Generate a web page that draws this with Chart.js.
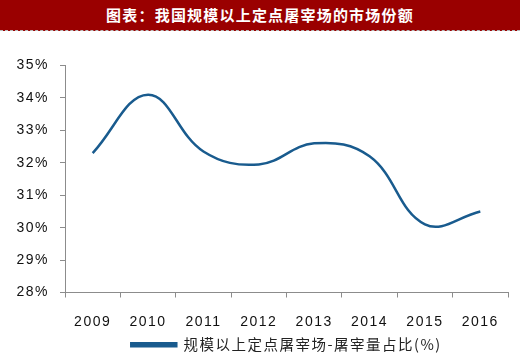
<!DOCTYPE html>
<html>
<head>
<meta charset="utf-8">
<script src="https://cdn.jsdelivr.net/npm/chart.js@4"></script>
<style>
  html, body { margin: 0; padding: 0; background: #fff; }
  #wrap { width: 520px; height: 362px; position: relative; overflow: hidden; }
  #title {
    height: 30px; background: #9a0000; color: #fff;
    font-family: "Noto Sans CJK SC", sans-serif; font-weight: bold; font-size: 15px;
    line-height: 30px; text-align: center; letter-spacing: 1.2px;
    border-bottom: 1px dashed #bbb;
  }
  #box { width: 520px; height: 331px; }
</style>
</head>
<body>
<div id="wrap">
  <div id="title">图表：我国规模以上定点屠宰场的市场份额</div>
  <div id="box"><canvas id="c"></canvas></div>
</div>
<script>
// data
const years = ["2009", "2010", "2011", "2012", "2013", "2014", "2015", "2016"];
const share = [32.3, 34.1, 32.35, 31.95, 32.6, 32.2, 30.1, 30.5];
const seriesName = "规模以上定点屠宰场-屠宰量占比(%)";

const lineColor = "#195b8e";
const axisColor = "#8c8c8c";

// the source text is a bit spread out, so widen letter spacing on the canvas
const spacing = {
  id: "spacing",
  beforeUpdate: (chart) => { chart.ctx.letterSpacing = "1.5px"; },
  beforeLayout: (chart) => { chart.ctx.letterSpacing = "1.5px"; },
  beforeDraw: (chart) => { chart.ctx.letterSpacing = "1.5px"; },
};

new Chart(document.getElementById("c"), {
  type: "line",
  data: {
    labels: years,
    datasets: [{
      label: seriesName,
      data: share,
      borderColor: lineColor,
      backgroundColor: lineColor,
      borderWidth: 2.5,
      pointRadius: 0,
      tension: 0.4,
      fill: false,
    }],
  },
  plugins: [spacing],
  options: {
    responsive: true,
    maintainAspectRatio: false,
    animation: false,
    layout: { padding: { top: 34.5, right: 12, left: 0, bottom: 0 } },
    plugins: {
      tooltip: { enabled: false },
      legend: {
        position: "bottom",
        fullSize: false,
        labels: {
          boxWidth: 45,
          boxHeight: 3,
          padding: 2,
          color: "#222",
          font: { family: "Noto Sans CJK SC, sans-serif", size: 14.5 },
        },
      },
    },
    scales: {
      x: {
        offset: true,
        grid: { display: true, offset: true, drawOnChartArea: false, drawTicks: true, tickLength: 5, color: axisColor },
        border: { display: true, color: axisColor, width: 1 },
        ticks: { color: "#111", padding: 16, font: { family: "Liberation Sans, Arial, sans-serif", size: 14 } },
        afterFit: (s) => { s.height = 43; },
      },
      y: {
        min: 28,
        max: 35,
        grid: { display: true, drawOnChartArea: false, drawTicks: true, tickLength: 5, color: axisColor },
        border: { display: true, color: axisColor, width: 1 },
        ticks: {
          stepSize: 1,
          color: "#111",
          padding: 11,
          font: { family: "Liberation Sans, Arial, sans-serif", size: 14 },
          callback: (v) => v + "%",
        },
        afterFit: (s) => { s.width = 65; },
      },
    },
  },
});
</script>
</body>
</html>
